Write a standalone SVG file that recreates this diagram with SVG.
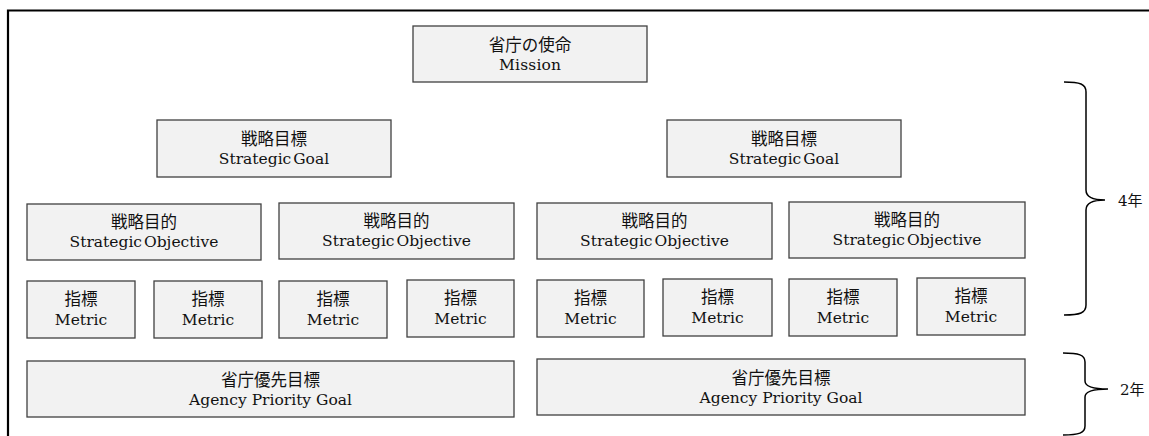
<svg xmlns="http://www.w3.org/2000/svg" width="1149" height="436" viewBox="0 0 1149 436">
<style>
.box{fill:#f2f2f2;stroke:#404040;stroke-width:1.3}
.jp{font-family:"Noto Sans CJK JP","Noto Sans",sans-serif;font-size:16.5px;fill:#111;text-anchor:middle}
.en{font-family:"DejaVu Serif","Liberation Serif",serif;font-size:15.5px;fill:#111;text-anchor:middle}
.brace{fill:none;stroke:#000;stroke-width:1.5}
.lbl{font-size:15px;fill:#111}
.frame{fill:none;stroke:#000;stroke-width:2.2}
</style>
<rect width="1149" height="436" fill="#fff"/>
<path class="frame" d="M8,436 L8,10.5 L1149,10.5"/>

<g id="mission">
<rect class="box" x="413" y="26" width="234" height="56"/>
<text class="jp" x="530" y="51">省庁の使命</text>
<text class="en" x="530" y="70" textLength="62">Mission</text>
</g>

<g id="goal-left">
<rect class="box" x="157" y="120" width="234" height="57"/>
<text class="jp" x="274" y="145">戦略目標</text>
<text class="en" x="274" y="164" word-spacing="-3">Strategic Goal</text>
</g>
<g id="goal-right">
<rect class="box" x="667" y="120" width="234" height="57"/>
<text class="jp" x="784" y="145">戦略目標</text>
<text class="en" x="784" y="164" word-spacing="-3">Strategic Goal</text>
</g>

<g id="objective-1">
<rect class="box" x="27" y="204" width="234" height="56"/>
<text class="jp" x="144" y="228">戦略目的</text>
<text class="en" x="144" y="247" word-spacing="-3">Strategic Objective</text>
</g>
<g id="objective-2">
<rect class="box" x="279" y="203" width="235" height="56"/>
<text class="jp" x="396.5" y="227">戦略目的</text>
<text class="en" x="396.5" y="246" word-spacing="-3">Strategic Objective</text>
</g>
<g id="objective-3">
<rect class="box" x="537" y="203" width="235" height="56"/>
<text class="jp" x="654.5" y="227">戦略目的</text>
<text class="en" x="654.5" y="246" word-spacing="-3">Strategic Objective</text>
</g>
<g id="objective-4">
<rect class="box" x="789" y="202" width="236" height="56"/>
<text class="jp" x="907" y="226">戦略目的</text>
<text class="en" x="907" y="245" word-spacing="-3">Strategic Objective</text>
</g>

<g id="metric-1">
<rect class="box" x="27" y="281" width="108" height="57"/>
<text class="jp" x="81" y="305">指標</text>
<text class="en" x="81" y="325">Metric</text>
</g>
<g id="metric-2">
<rect class="box" x="154" y="281" width="108" height="57"/>
<text class="jp" x="208" y="305">指標</text>
<text class="en" x="208" y="325">Metric</text>
</g>
<g id="metric-3">
<rect class="box" x="279" y="281" width="108" height="57"/>
<text class="jp" x="333" y="305">指標</text>
<text class="en" x="333" y="325">Metric</text>
</g>
<g id="metric-4">
<rect class="box" x="407" y="280" width="107" height="57"/>
<text class="jp" x="460.5" y="304">指標</text>
<text class="en" x="460.5" y="324">Metric</text>
</g>
<g id="metric-5">
<rect class="box" x="537" y="280" width="107" height="57"/>
<text class="jp" x="590.5" y="304">指標</text>
<text class="en" x="590.5" y="324">Metric</text>
</g>
<g id="metric-6">
<rect class="box" x="663" y="279" width="109" height="57"/>
<text class="jp" x="717.5" y="303">指標</text>
<text class="en" x="717.5" y="323">Metric</text>
</g>
<g id="metric-7">
<rect class="box" x="789" y="279" width="108" height="57"/>
<text class="jp" x="843" y="303">指標</text>
<text class="en" x="843" y="323">Metric</text>
</g>
<g id="metric-8">
<rect class="box" x="917" y="278" width="108" height="57"/>
<text class="jp" x="971" y="302">指標</text>
<text class="en" x="971" y="322">Metric</text>
</g>

<g id="apg-left">
<rect class="box" x="27" y="361" width="487" height="56"/>
<text class="jp" x="270.5" y="386">省庁優先目標</text>
<text class="en" x="270.5" y="405">Agency Priority Goal</text>
</g>
<g id="apg-right">
<rect class="box" x="537" y="359" width="488" height="56"/>
<text class="jp" x="781" y="384">省庁優先目標</text>
<text class="en" x="781" y="403">Agency Priority Goal</text>
</g>

<g id="connectors">
<path class="brace" d="M1064,82 C1080,82 1086,84 1086,92 L1086,190 C1086,197 1092,200 1105,200 C1092,200 1086,203 1086,210 L1086,305 C1086,313 1080,315 1064,315"/>
<path class="brace" d="M1063,353 C1079,353 1085,355 1085,362 L1085,381 C1085,386 1091,389 1108,389 C1091,389 1085,392 1085,397 L1085,426 C1085,433 1079,435 1063,435"/>
</g>

<g id="label-4y">
<text class="lbl" x="1118" y="206"><tspan font-family="DejaVu Serif, serif">4</tspan><tspan font-family="Noto Sans CJK JP, sans-serif">年</tspan></text>
</g>
<g id="label-2y">
<text class="lbl" x="1120" y="395"><tspan font-family="DejaVu Serif, serif">2</tspan><tspan font-family="Noto Sans CJK JP, sans-serif">年</tspan></text>
</g>
</svg>
